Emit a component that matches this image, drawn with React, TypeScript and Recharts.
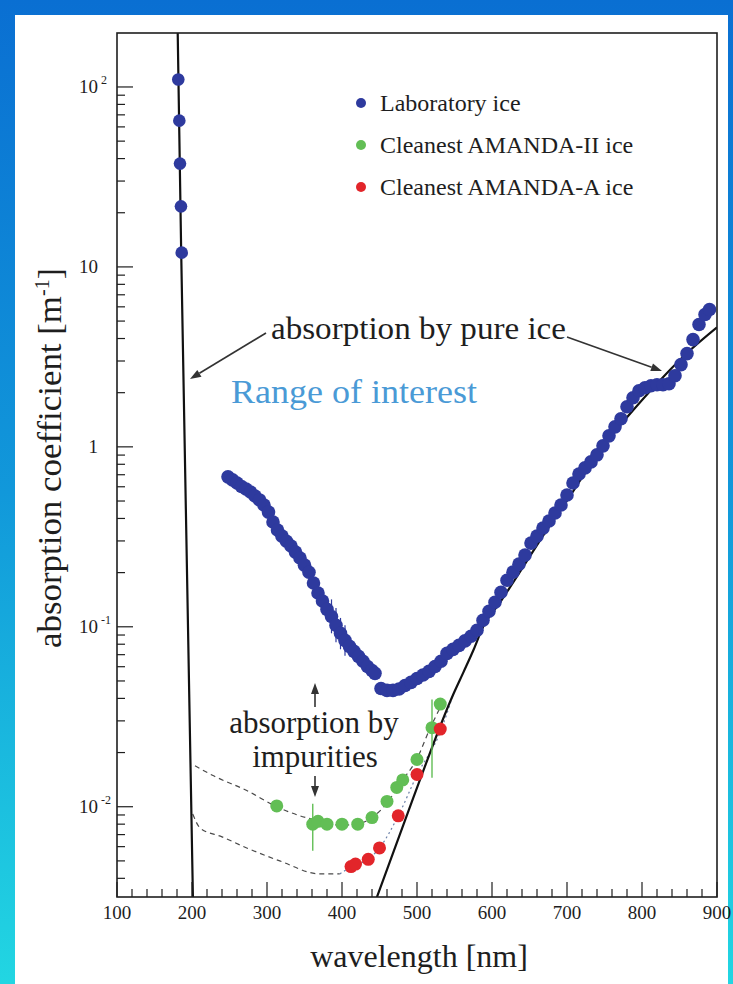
import React from 'react';
import { ComposedChart, Line, Scatter, XAxis, YAxis, ErrorBar } from 'recharts';

// ---------- data ----------
// Laboratory ice, UV points
const labUvWavelength = [181.7, 183.1, 184.0, 185.3, 186.3];
const labUvAbsorption = [110, 65, 37.5, 21.7, 12.0];

// Laboratory ice, 250-900 nm
const labWavelength = [
  248, 254, 260, 266, 272, 278, 284, 290, 296, 302, 308, 314, 320, 326, 332, 338, 344,
  350, 356, 362, 368, 374, 380, 386, 392, 398, 404, 410, 416, 422, 428, 434, 440, 444,
  452, 460, 468, 476, 484, 492, 500, 508, 516, 524, 532, 540, 548, 556, 564, 572, 580,
  588, 596, 604, 612, 620, 628, 636, 644, 652, 660, 668, 676, 684, 692, 700, 708, 716,
  724, 732, 740, 748, 756, 764, 772, 780, 788, 796, 804, 812, 820, 828, 836, 844, 852,
  860, 868, 876, 884, 890,
];
const labAbsorption = [
  0.681, 0.655, 0.63, 0.602, 0.583, 0.561, 0.533, 0.507, 0.475, 0.434, 0.382, 0.345, 0.319, 0.299, 0.281, 0.26, 0.241,
  0.22, 0.201, 0.175, 0.154, 0.139, 0.125, 0.114, 0.102, 0.092, 0.0841, 0.0778, 0.073, 0.0685, 0.0643, 0.0602, 0.0572, 0.0551,
  0.0454, 0.0443, 0.0443, 0.0451, 0.0472, 0.0491, 0.0516, 0.054, 0.0565, 0.0602, 0.0643, 0.0712, 0.0749, 0.0788, 0.0835, 0.0886, 0.0956,
  0.1087, 0.1221, 0.1369, 0.1556, 0.1815, 0.2012, 0.2229, 0.2502, 0.2918, 0.3192, 0.3537, 0.387, 0.4288, 0.4752, 0.5402, 0.63, 0.707,
  0.764, 0.825, 0.903, 1.013, 1.151, 1.292, 1.432, 1.671, 1.875, 2.051, 2.132, 2.187, 2.215, 2.215, 2.244, 2.486, 2.863,
  3.297, 3.946, 4.782, 5.438, 5.8,
];
// error bars on a few laboratory points
const labErrWavelength = [386, 392, 398, 404];
const labErrDown = [0.022, 0.02, 0.017, 0.015];
const labErrUp = [0.028, 0.025, 0.02, 0.018];

// Cleanest AMANDA-II ice
const amanda2Wavelength = [313, 361, 368, 380, 400, 421, 440, 460, 473, 481, 500, 520, 531];
const amanda2Absorption = [0.0101, 0.008, 0.0083, 0.008, 0.008, 0.008, 0.0087, 0.0107, 0.0128, 0.0141, 0.0183, 0.0275, 0.0372];
const amanda2ErrWavelength = [361, 520];
const amanda2ErrDown = [0.0023, 0.013];
const amanda2ErrUp = [0.0024, 0.012];

// Cleanest AMANDA-A ice
const amandaAWavelength = [412, 418, 435, 450, 475, 500, 531];
const amandaAAbsorption = [0.00465, 0.0048, 0.0051, 0.0059, 0.0089, 0.0151, 0.027];

// absorption by pure ice (model curve), two branches
const pureUvWavelength = [180.9, 185.6, 201.3];
const pureUvAbsorption = [205, 12, 0.003];
const pureVisWavelength = [446, 495, 548, 562, 575, 588, 611, 637, 671, 704, 744, 780, 828, 864, 900];
const pureVisAbsorption = [0.0031, 0.0112, 0.0418, 0.056, 0.0738, 0.0996, 0.137, 0.201, 0.335, 0.532, 0.959, 1.46, 2.44, 3.44, 4.62];

// model curves: pure ice + impurities
const modelIIWavelength = [204, 228, 273, 313, 344, 361, 380, 401, 420, 440, 460, 477, 500, 517, 533];
const modelIIAbsorption = [0.0169, 0.0149, 0.0123, 0.01, 0.0089, 0.0085, 0.008, 0.0079, 0.008, 0.0087, 0.0105, 0.0134, 0.0185, 0.027, 0.037];
const modelAWavelength = [201, 211, 240, 273, 317, 371, 397];
const modelAAbsorption = [0.0091, 0.0076, 0.0068, 0.0059, 0.005, 0.00423, 0.00423];
const modelADotWavelength = [397, 415, 435, 450, 475, 500, 531, 548];
const modelADotAbsorption = [0.00423, 0.0047, 0.0051, 0.0059, 0.0089, 0.015, 0.026, 0.0418];

// axes
const xMajorTicks = [100, 200, 300, 400, 500, 600, 700, 800, 900];
const xMinorTicks = [
  120, 140, 160, 180, 220, 240, 260, 280, 320, 340, 360, 380, 420, 440, 460, 480,
  520, 540, 560, 580, 620, 640, 660, 680, 720, 740, 760, 780, 820, 840, 860, 880,
];
const yMajorTicks = [0.01, 0.1, 1, 10, 100];
const yTickBase = ['10', '10', '1', '10', '10'];
const yTickExp = ['-2', '-1', '', '', '2'];
const yMinorTicks = [
  0.004, 0.005, 0.006, 0.007, 0.008, 0.009,
  0.02, 0.03, 0.04, 0.05, 0.06, 0.07, 0.08, 0.09,
  0.2, 0.3, 0.4, 0.5, 0.6, 0.7, 0.8, 0.9,
  2, 3, 4, 5, 6, 7, 8, 9,
  20, 30, 40, 50, 60, 70, 80, 90,
];
const xDomain = [100, 900];
const yDomain = [0.00315, 199.5];

const seriesNames = ['Laboratory ice', 'Cleanest AMANDA-II ice', 'Cleanest AMANDA-A ice'];
const seriesColors = ['#2e3a9e', '#62be55', '#e2252a'];

// ---------- build tables ----------
const pairs = (xs: number[], ys: number[]) => xs.map((x, i) => ({ x, y: ys[i] }));
const labUvData = pairs(labUvWavelength, labUvAbsorption);
const labData = labWavelength.map((x, i) => {
  const k = labErrWavelength.indexOf(x);
  return { x, y: labAbsorption[i], err: k >= 0 ? [labErrDown[k], labErrUp[k]] : undefined };
});
const amanda2Data = amanda2Wavelength.map((x, i) => {
  const k = amanda2ErrWavelength.indexOf(x);
  return { x, y: amanda2Absorption[i], err: k >= 0 ? [amanda2ErrDown[k], amanda2ErrUp[k]] : undefined };
});
const amandaAData = pairs(amandaAWavelength, amandaAAbsorption);
const pureUvData = pairs(pureUvWavelength, pureUvAbsorption);
const pureVisData = pairs(pureVisWavelength, pureVisAbsorption);
const modelIIData = pairs(modelIIWavelength, modelIIAbsorption);
const modelAData = pairs(modelAWavelength, modelAAbsorption);
const modelADotData = pairs(modelADotWavelength, modelADotAbsorption);

const FONT = '"Liberation Serif", "DejaVu Serif", serif';
const INK = '#1e1e1e';

const XTick = (props: any) => {
  const { x, y, payload } = props;
  const v = payload.value;
  const major = xMajorTicks.indexOf(v) >= 0;
  return (
    <g>
      <line x1={x} x2={x} y1={y} y2={y - (major ? 15 : 8)} stroke={INK} strokeWidth={1.2} />
      {major && (
        <text x={x} y={y + 22} textAnchor="middle" fontFamily={FONT} fontSize={19} fill={INK}>
          {v}
        </text>
      )}
    </g>
  );
};

const YTick = (props: any) => {
  const { x, y, payload } = props;
  const v = payload.value;
  const idx = yMajorTicks.findIndex((t) => Math.abs(t - v) / t < 1e-6);
  const major = idx >= 0;
  return (
    <g>
      <line x1={x} x2={x + (major ? 16 : 8)} y1={y} y2={y} stroke={INK} strokeWidth={1.2} />
      {major && (
        <text x={x - 19} y={y + 6} textAnchor="end" fontFamily={FONT} fontSize={19} fill={INK}>
          {yTickBase[idx]}
        </text>
      )}
      {major && yTickExp[idx] && (
        <text x={x - 16} y={y - 3} textAnchor="start" fontFamily={FONT} fontSize={12} fill={INK}>
          {yTickExp[idx]}
        </text>
      )}
    </g>
  );
};

const dot = (color: string, r: number) => (props: any) => {
  const { cx, cy } = props;
  if (cx == null || cy == null) return <g />;
  return <circle cx={cx} cy={cy} r={r} fill={color} />;
};

function Arrow({ x1, y1, x2, y2 }: { x1: number; y1: number; x2: number; y2: number }) {
  const ang = Math.atan2(y2 - y1, x2 - x1);
  const L = 11;
  const W = 4;
  const bx = x2 - L * Math.cos(ang);
  const by = y2 - L * Math.sin(ang);
  const px = -Math.sin(ang) * W;
  const py = Math.cos(ang) * W;
  return (
    <g>
      <line x1={x1} y1={y1} x2={bx} y2={by} stroke="#333" strokeWidth={1.6} />
      <polygon points={`${x2},${y2} ${bx + px},${by + py} ${bx - px},${by - py}`} fill="#333" />
    </g>
  );
}

export default function App() {
  const W = 733;
  const H = 984;
  const plot = { left: 117, top: 33, right: 717, bottom: 897 };
  return (
    <div
      style={{
        position: 'absolute',
        left: 0,
        top: 0,
        width: W,
        height: H,
        overflow: 'hidden',
        background: 'linear-gradient(180deg, #0a6fd2 0%, #1198da 50%, #22d6e2 100%)',
      }}
    >
      <div style={{ position: 'absolute', left: 15, top: 15, width: 713, height: H - 15, background: '#ffffff' }} />
      <div style={{ position: 'absolute', left: 0, top: 0 }}>
        <ComposedChart width={W} height={H} margin={{ top: plot.top, right: W - plot.right, bottom: 0, left: 0 }}>
          <XAxis
            type="number"
            dataKey="x"
            domain={xDomain}
            ticks={[...xMajorTicks, ...xMinorTicks].sort((a, b) => a - b)}
            interval={0}
            allowDataOverflow
            height={H - plot.bottom}
            tickSize={0}
            tickMargin={0}
            tickLine={false}
            axisLine={false}
            tick={<XTick />}
          />
          <YAxis
            type="number"
            dataKey="y"
            scale="log"
            domain={yDomain}
            ticks={[...yMajorTicks, ...yMinorTicks].sort((a, b) => a - b)}
            interval={0}
            allowDataOverflow
            width={plot.left}
            tickSize={0}
            tickMargin={0}
            tickLine={false}
            axisLine={false}
            tick={<YTick />}
          />
          <Line data={modelIIData} type="monotone" dataKey="y" stroke="#4a4a4a" strokeWidth={1.2} strokeDasharray="5 4" dot={false} isAnimationActive={false} />
          <Line data={modelAData} type="monotone" dataKey="y" stroke="#4a4a4a" strokeWidth={1.2} strokeDasharray="5 4" dot={false} isAnimationActive={false} />
          <Line data={modelADotData} type="monotone" dataKey="y" stroke="#6a7fa8" strokeWidth={1.2} strokeDasharray="2 3" dot={false} isAnimationActive={false} />
          <Line data={pureUvData} dataKey="y" stroke="#111" strokeWidth={2.2} dot={false} isAnimationActive={false} />
          <Line data={pureVisData} type="monotone" dataKey="y" stroke="#111" strokeWidth={2.2} dot={false} isAnimationActive={false} />
          <Scatter data={labUvData} fill={seriesColors[0]} shape={dot(seriesColors[0], 6.3)} isAnimationActive={false} />
          <Scatter data={labData} fill={seriesColors[0]} shape={dot(seriesColors[0], 6.8)} isAnimationActive={false}>
            <ErrorBar dataKey="err" direction="y" width={0} stroke={seriesColors[0]} strokeWidth={1.2} />
          </Scatter>
          <Scatter data={amanda2Data} fill={seriesColors[1]} shape={dot(seriesColors[1], 6.5)} isAnimationActive={false}>
            <ErrorBar dataKey="err" direction="y" width={0} stroke={seriesColors[1]} strokeWidth={1.4} />
          </Scatter>
          <Scatter data={amandaAData} fill={seriesColors[2]} shape={dot(seriesColors[2], 6.5)} isAnimationActive={false} />
        </ComposedChart>
      </div>
      <svg
        width={W}
        height={H}
        style={{ position: 'absolute', left: 0, top: 0, pointerEvents: 'none' }}
        fontFamily={FONT}
      >
        <rect
          x={plot.left}
          y={plot.top}
          width={plot.right - plot.left}
          height={plot.bottom - plot.top}
          fill="none"
          stroke={INK}
          strokeWidth={1.6}
        />
        {/* legend */}
        {seriesNames.map((name, i) => (
          <g key={name}>
            <circle cx={361} cy={103 + i * 42} r={5} fill={seriesColors[i]} />
            <text x={380} y={111 + i * 42} fontSize={24} fill={INK}>
              {name}
            </text>
          </g>
        ))}
        {/* annotations */}
        <text x={271} y={339} fontSize={32} fill={INK} textLength={295} lengthAdjust="spacingAndGlyphs">
          absorption by pure ice
        </text>
        <Arrow x1={266} y1={333} x2={190} y2={379} />
        <Arrow x1={567} y1={337} x2={662} y2={371} />
        <text x={231} y={403} fontSize={34} fill="#4a9ad6" textLength={246} lengthAdjust="spacingAndGlyphs">
          Range of interest
        </text>
        <text x={314} y={733} fontSize={31} fill={INK} textAnchor="middle">
          absorption by
        </text>
        <text x={315} y={767} fontSize={31} fill={INK} textAnchor="middle">
          impurities
        </text>
        <Arrow x1={315} y1={707} x2={315} y2={683} />
        <Arrow x1={315} y1={776} x2={315} y2={797} />
        {/* axis titles */}
        <text x={419} y={967} fontSize={32} fill={INK} textAnchor="middle">
          wavelength [nm]
        </text>
        <g transform="rotate(-90 61 450)">
          <text x={61 - 198} y={450} fontSize={33} fill={INK} textAnchor="start">
            <tspan textLength={352} lengthAdjust="spacingAndGlyphs">absorption coefficient [m</tspan>
            <tspan dy={-12} fontSize={20}>-1</tspan>
            <tspan dy={12}>]</tspan>
          </text>
        </g>
      </svg>
    </div>
  );
}
